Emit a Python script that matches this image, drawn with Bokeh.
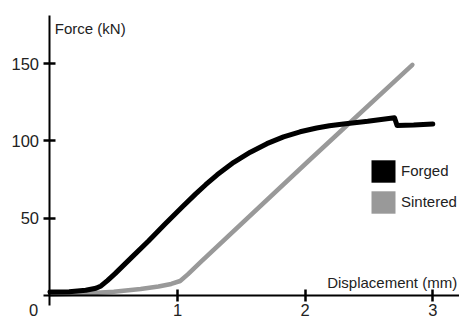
from bokeh.plotting import figure
from bokeh.models import Range1d, FixedTicker, Label, Legend, LegendItem, ColumnDataSource
from bokeh.embed import file_html
from bokeh.resources import INLINE

# ---- data ----
forged_x = [0, 0.15, 0.28, 0.36, 0.40, 0.45, 0.51, 0.64, 0.77, 0.90, 1.04, 1.14, 1.22,
            1.31, 1.44, 1.57, 1.70, 1.83, 1.96, 2.09, 2.19, 2.30, 2.49, 2.67, 2.70,
            2.72, 2.85, 3.0]
forged_y = [2, 2.3, 3.2, 4.5, 6.0, 9.5, 14, 24.5, 35, 46, 57.5, 65.5, 71.6,
            78.0, 86.1, 92.7, 98.2, 102.6, 105.9, 108.4, 109.8, 111.0, 112.7, 114.7, 115,
            110, 110.3, 111]
sintered_x = [0, 0.3, 0.5, 0.71, 0.85, 0.95, 1.02, 1.08, 1.18, 2.03, 2.84]
sintered_y = [0.5, 1.2, 2.2, 4.0, 5.6, 7.3, 9.2, 13.5, 21.5, 87.3, 149.3]

series_names = ["Forged", "Sintered"]
series_colors = ["#000000", "#999999"]
x_ticks = [1, 2, 3]
y_ticks = [50, 100, 150]
x_title = "Displacement (mm)"
y_title = "Force (kN)"

FONT = "Liberation Sans"
TXT = "#222222"

p = figure(width=459, height=320, title=None,
           x_range=Range1d(-0.3879, 3.2093), y_range=Range1d(-16.4, 191.0),
           min_border=0, output_backend="svg", toolbar_location=None)
p.outline_line_color = None
p.grid.visible = False
p.background_fill_color = "white"
p.border_fill_color = "white"

for ax in (p.xaxis[0], p.yaxis[0]):
    ax.fixed_location = 0
    ax.axis_line_width = 2
    ax.axis_line_color = "black"
    ax.major_tick_line_width = 2.5
    ax.major_tick_line_color = "black"
    ax.major_tick_in = 6
    ax.major_tick_out = 6
    ax.minor_tick_line_color = None
    ax.major_label_text_font = FONT
    ax.major_label_text_font_size = "16.5px"
    ax.major_label_text_color = TXT

p.xaxis[0].ticker = FixedTicker(ticks=x_ticks)
p.yaxis[0].ticker = FixedTicker(ticks=y_ticks)
p.xaxis[0].bounds = (-0.051, 3.2093)
p.yaxis[0].bounds = (-7.0, 181.3)
p.xaxis[0].major_label_standoff = 3
p.yaxis[0].major_label_standoff = 5

src_f = ColumnDataSource(dict(x=forged_x, y=forged_y))
src_s = ColumnDataSource(dict(x=sintered_x, y=sintered_y))
p.line("x", "y", source=src_s, line_color=series_colors[1], line_width=4.5,
       line_join="round", line_cap="round")
p.line("x", "y", source=src_f, line_color=series_colors[0], line_width=5,
       line_join="round", line_cap="round")

# legend swatches (squares) - invisible in plot, shown only in legend
nan = float("nan")
sw = []
for c in series_colors:
    sw.append(p.quad(left=[nan], right=[nan], top=[nan], bottom=[nan],
                     fill_color=c, line_color=None))
legend = Legend(items=[LegendItem(label=n, renderers=[r]) for n, r in zip(series_names, sw)],
                location=(368, 104.5), glyph_width=30, glyph_height=28, spacing=3,
                padding=0, margin=0, border_line_color=None, background_fill_alpha=0,
                label_text_font=FONT, label_text_font_size="15px",
                label_text_color=TXT, label_standoff=3)
p.add_layout(legend)

p.add_layout(Label(x=0.038, y=172.6, text=y_title, text_font=FONT, text_font_size="15px",
                   text_color=TXT, text_align="left", text_baseline="alphabetic"))
p.add_layout(Label(x=2.172, y=8.4, text=x_title, text_font=FONT, text_font_size="15px",
                   text_color=TXT, text_align="left", text_baseline="alphabetic"))
p.add_layout(Label(x=-0.164, y=-5.8, text="0", text_font=FONT, text_font_size="16.5px",
                   text_color=TXT, text_align="left", text_baseline="top"))

open("out.html", "w").write(file_html(p, INLINE))
